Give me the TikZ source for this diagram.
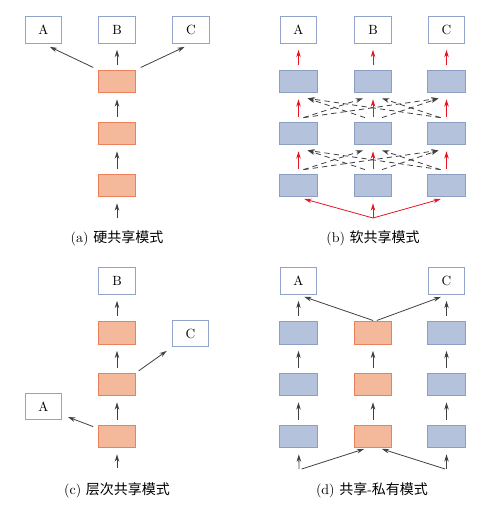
\documentclass[tikz,border=0pt]{standalone}
\usepackage{fontspec}
\newfontfamily\cjk{Noto Sans CJK SC}
\usepackage{xcolor}
\usepackage{tikz}
\usetikzlibrary{calc, arrows.meta}

\definecolor{shfill}{RGB}{244,185,155}
\definecolor{shline}{RGB}{236,128,92}
\definecolor{pvfill}{RGB}{180,194,219}
\definecolor{pvline}{RGB}{140,158,196}
\definecolor{lblline}{RGB}{146,164,202}
\definecolor{arrgray}{RGB}{64,64,64}
\definecolor{softred}{RGB}{228,22,34}

\begin{document}
\begin{tikzpicture}[
    x=0.75pt, y=-0.75pt,
    every node/.style={font=\normalsize},
    outbox/.style={draw=lblline, fill=white, line width=0.8pt,
                   minimum width=27.5pt, minimum height=20pt, inner sep=0pt},
    shbox/.style={draw=shline, fill=shfill, line width=0.8pt,
                  minimum width=28pt, minimum height=17pt, inner sep=0pt},
    pvbox/.style={draw=pvline, fill=pvfill, line width=0.8pt,
                  minimum width=28pt, minimum height=17pt, inner sep=0pt},
    arr/.style={-{Stealth[length=5.5pt, width=3.4pt]}, draw=arrgray,
                line width=0.6pt, shorten <=3.75pt, shorten >=4.5pt},
    redarr/.style={arr, draw=softred},
    xarr/.style={arr, dash pattern=on 4pt off 3pt, shorten <=0pt, shorten >=0pt},
    caption/.style={font=\fontsize{10.5}{12}\selectfont},
]
  \useasboundingbox (0,0) rectangle (485,512);

  % (a) hard sharing
  \node[outbox] (aA) at (43.5,30) {A};
  \node[outbox] (aB) at (117,30) {B};
  \node[outbox] (aC) at (191,30) {C};
  \node[shbox] (a3) at (117,81.5) {};
  \node[shbox] (a2) at (117,133.5) {};
  \node[shbox] (a1) at (117,185.5) {};
  \coordinate (ain) at (117,218);
  \draw[arr, shorten <=0pt] (ain) -- (a1);
  \draw[arr] (a1) -- (a2);
  \draw[arr] (a2) -- (a3);
  \draw[arr] (a3) -- (aB);
  \draw[arr, shorten >=5.25pt] (a3.north west) -- (aA.south);
  \draw[arr, shorten >=5.25pt] (a3.north east) -- (aC.south);
  \node[caption] (capa) at (117,238) {(a) {\cjk 硬共享模式}};

  % (b) soft sharing
  \node[outbox] (bA) at (298.5,30) {A};
  \node[outbox] (bB) at (373,30) {B};
  \node[outbox] (bC) at (446.5,30) {C};
  \node[pvbox] (bl3) at (298.5,81.5) {};
  \node[pvbox] (bm3) at (373,81.5) {};
  \node[pvbox] (br3) at (446.5,81.5) {};
  \node[pvbox] (bl2) at (298.5,133.5) {};
  \node[pvbox] (bm2) at (373,133.5) {};
  \node[pvbox] (br2) at (446.5,133.5) {};
  \node[pvbox] (bl1) at (298.5,185.5) {};
  \node[pvbox] (bm1) at (373,185.5) {};
  \node[pvbox] (br1) at (446.5,185.5) {};
  \coordinate (bin) at (373,218);
  \foreach \lo/\hi in {1/2, 2/3} {
    \draw[xarr] ($(bl\lo.north)+(5,-4)$) -- ($(bm\hi.south)+(-10,5)$);
    \draw[xarr] ($(bl\lo.north)+(5,-4)$) -- ($(br\hi.south)+(-8,5)$);
    \draw[xarr] ($(bm\lo.north)+(-8,-4)$) -- ($(bl\hi.south)+(9,5)$);
    \draw[xarr] ($(bm\lo.north)+(9,-4)$) -- ($(br\hi.south)+(-8,5)$);
    \draw[xarr] ($(br\lo.north)+(-6,-4)$) -- ($(bl\hi.south)+(9,5)$);
    \draw[xarr] ($(br\lo.north)+(-6,-4)$) -- ($(bm\hi.south)+(9,5)$);
    \draw[redarr] (bl\lo) -- (bl\hi);
    \draw[redarr] (bm\lo) -- (bm\hi);
    \draw[redarr] (br\lo) -- (br\hi);
  }
  \draw[redarr] (bl3) -- (bA);
  \draw[redarr] (bm3) -- (bB);
  \draw[redarr] (br3) -- (bC);
  \draw[redarr, shorten <=0pt] (bin) -- (bl1.south);
  \draw[redarr, shorten <=0pt] (bin) -- (bm1.south);
  \draw[redarr, shorten <=0pt] (bin) -- (br1.south);
  \node[caption] (capb) at (373,238) {(b) {\cjk 软共享模式}};

  % (c) hierarchical sharing
  \node[outbox] (cB) at (117,281) {B};
  \node[outbox] (cC) at (190.5,333.5) {C};
  \node[outbox] (cA) at (43.5,406.5) {A};
  \node[shbox] (c3) at (117,333) {};
  \node[shbox] (c2) at (117,384.5) {};
  \node[shbox] (c1) at (117,436.5) {};
  \coordinate (cin) at (117,468);
  \draw[arr, shorten <=0pt] (cin) -- (c1);
  \draw[arr] (c1) -- (c2);
  \draw[arr] (c2) -- (c3);
  \draw[arr] (c3) -- (cB);
  \draw[arr, shorten <=2.25pt] (c2.north east) -- (cC.south west);
  \draw[arr] (c1.157) -- (cA.-24);
  \node[caption] (capc) at (117,490) {(c) {\cjk 层次共享模式}};

  % (d) shared-private
  \node[outbox] (dA) at (298.5,281) {A};
  \node[outbox] (dC) at (446.5,281) {C};
  \node[pvbox] (dl3) at (298.5,333) {};
  \node[shbox] (dm3) at (373,333) {};
  \node[pvbox] (dr3) at (446.5,333) {};
  \node[pvbox] (dl2) at (298.5,384.5) {};
  \node[shbox] (dm2) at (373,384.5) {};
  \node[pvbox] (dr2) at (446.5,384.5) {};
  \node[pvbox] (dl1) at (298.5,436.5) {};
  \node[shbox] (dm1) at (373,436.5) {};
  \node[pvbox] (dr1) at (446.5,436.5) {};
  \coordinate (dinl) at (299,469);
  \coordinate (dinr) at (446.5,469);
  \foreach \col in {l, m, r} {
    \draw[arr] (d\col1) -- (d\col2);
    \draw[arr] (d\col2) -- (d\col3);
  }
  \draw[arr, shorten <=0pt] (dinl) -- (dl1);
  \draw[arr, shorten <=0pt] (dinr) -- (dr1);
  \draw[arr, shorten <=0pt, shorten >=1.5pt] ([xshift=2pt]dinl) -- ($(dm1.south)+(-7,0)$);
  \draw[arr, shorten <=0pt, shorten >=1.5pt] ([xshift=-1pt]dinr) -- ($(dm1.south)+(7,0)$);
  \draw[arr] (dl3) -- (dA);
  \draw[arr] (dr3) -- (dC);
  \draw[arr, shorten <=1.5pt] ($(dm3.north)+(2,0)$) -- (dA.south);
  \draw[arr, shorten <=1.5pt] ($(dm3.north)+(2,0)$) -- (dC.south);
  \node[caption] (capd) at (372,490) {(d) {\cjk 共享}-{\cjk 私有模式}};
\end{tikzpicture}
\end{document}
